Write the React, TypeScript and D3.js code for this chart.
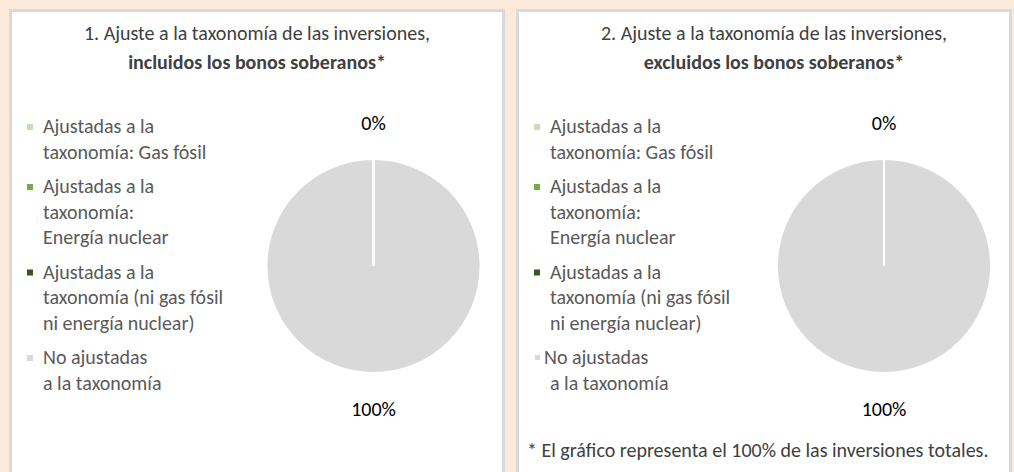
import React from "react";
import * as d3 from "d3";

// legend categories (each is split into the lines shown in the picture)
const categories = [
  "Ajustadas a la taxonomía: Gas fósil",
  "Ajustadas a la taxonomía: Energía nuclear",
  "Ajustadas a la taxonomía (ni gas fósil ni energía nuclear)",
  "No ajustadas a la taxonomía",
];
const legendLines = [
  ["Ajustadas a la", "taxonomía: Gas fósil"],
  ["Ajustadas a la", "taxonomía:", "Energía nuclear"],
  ["Ajustadas a la", "taxonomía (ni gas fósil", "ni energía nuclear)"],
  ["No ajustadas", "a la taxonomía"],
];
const colors = ["#c5e0b4", "#70ad47", "#375623", "#d9d9d9"];

const valuesIncl = [0, 0, 0, 100];
const valuesExcl = [0, 0, 0, 100];

const titles = [
  ["1. Ajuste a la taxonomía de las inversiones,", "incluidos los bonos soberanos*"],
  ["2. Ajuste a la taxonomía de las inversiones,", "excluidos los bonos soberanos*"],
];
const footnote = "* El gráfico representa el 100% de las inversiones totales.";

const FONT = "Carlito, Calibri, Lato, sans-serif";

const PiePanel = ({ x, values, title, titleX, pieX, last }) => {
  const radius = 107;
  const pieY = 266;
  const pie = d3.pie<number>().sort(null).value((d) => d);
  const arcs = pie(values);
  const arc = d3.arc<any>().innerRadius(0).outerRadius(radius);
  const labelArc = d3.arc<any>().innerRadius(143).outerRadius(143);
  const total = d3.sum(values);

  // one label per distinct position
  const seen = new Set();
  const labels = arcs.filter((a) => {
    const k = a.startAngle.toFixed(3) + "-" + a.endAngle.toFixed(3);
    if (seen.has(k)) return false;
    seen.add(k);
    return true;
  });

  const lineH = 25.5;
  const itemGap = 34.5;
  let yy = 126;
  const items = legendLines.map((lines, i) => {
    const top = yy;
    yy += (lines.length - 1) * lineH + itemGap;
    return { lines, top, i };
  });

  return (
    <g transform={`translate(${x},0)`}>
      <rect x={10.5} y={10.5} width={493} height={480} fill="#fff" stroke="#d9d9d9" strokeWidth={3} />
      <text textAnchor="middle" fontFamily={FONT} fontSize={20} fill="#404040">
        <tspan x={titleX} y={40}>{title[0]}</tspan>
        <tspan x={titleX} y={69} fontWeight="bold">{title[1]}</tspan>
      </text>

      {items.map(({ lines, top, i }) => {
        const shifted = last && i === 3;
        return (
          <g key={categories[i]}>
            <rect
              x={shifted ? 28 : 27}
              y={top - 2}
              width={shifted ? 5 : 6}
              height={shifted ? 5 : 6}
              fill={colors[i]}
            />
            <text fontFamily={FONT} fontSize={20} fill="#595959">
              {lines.map((l, j) => (
                <tspan key={j} x={shifted && j === 0 ? 37 : 43} y={top + 7 + j * lineH}>
                  {l}
                </tspan>
              ))}
            </text>
          </g>
        );
      })}

      <g transform={`translate(${pieX},${pieY})`}>
        {/* reverse order so the zero-width slices' white edges stay on top */}
        {arcs
          .map((a, i) => ({ a, i }))
          .reverse()
          .map(({ a, i }) => (
            <path key={i} d={arc(a)} fill={colors[i]} stroke="#fff" strokeWidth={2} />
          ))}
        {labels.map((a, i) => {
          const [lx, ly] = labelArc.centroid(a);
          return (
            <text
              key={i}
              x={lx}
              y={ly}
              dy="0.35em"
              textAnchor="middle"
              fontFamily={FONT}
              fontSize={20}
              fill="#000"
            >
              {d3.format(".0%")(a.data / total)}
            </text>
          );
        })}
      </g>

      {last && (
        <text x={20} y={457} fontFamily={FONT} fontSize={20} fill="#404040">
          {footnote}
        </text>
      )}
    </g>
  );
};

export default function App() {
  return (
    <svg
      width={1014}
      height={472}
      style={{ position: "absolute", left: 0, top: 0, display: "block" }}
    >
      <rect width={1014} height={472} fill="#fbe9da" />
      <PiePanel x={0} values={valuesIncl} title={titles[0]} titleX={257} pieX={373.5} last={false} />
      <PiePanel x={507} values={valuesExcl} title={titles[1]} titleX={267} pieX={377} last={true} />
    </svg>
  );
}
